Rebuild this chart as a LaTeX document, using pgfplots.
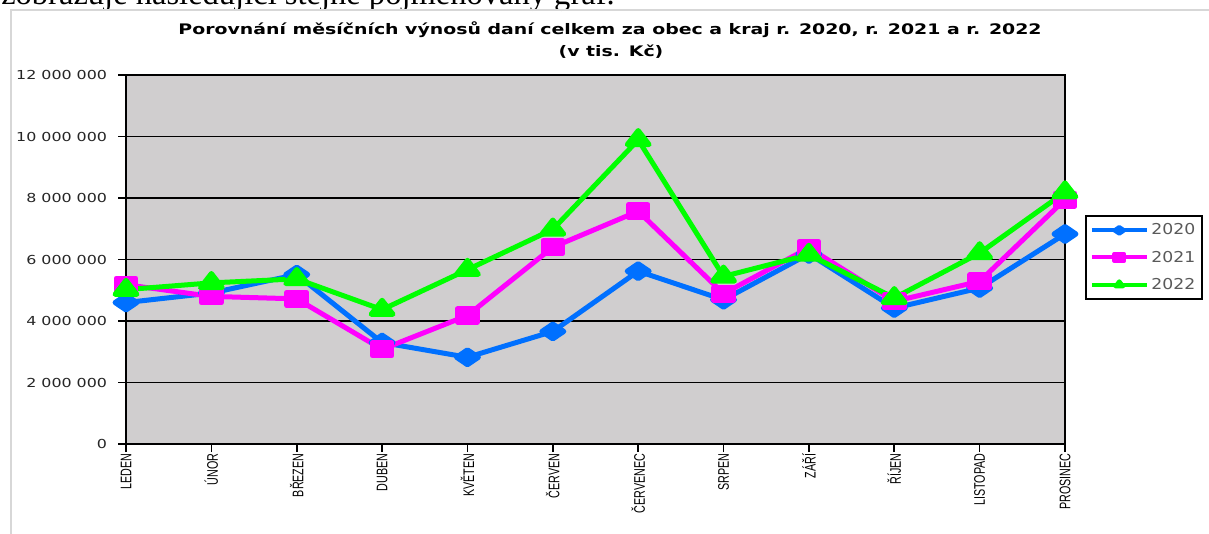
\documentclass[border=0pt]{standalone}
\usepackage{pgfplots}
\pgfplotsset{compat=1.18}
\usepackage{fontspec}
\setmainfont{DejaVu Sans}
\newfontfamily\titlefont[FakeStretch=1.3]{DejaVu Sans}
\newfontfamily\yfont[FakeStretch=1.28]{DejaVu Sans}
\newfontfamily\xfont[FakeStretch=0.70]{Liberation Sans}
\newfontfamily\legfont[FakeStretch=1.15]{DejaVu Sans}
\newfontfamily\seriffont{Liberation Serif}
\definecolor{cA}{RGB}{0,112,255}
\definecolor{cB}{RGB}{255,0,255}
\definecolor{cC}{RGB}{0,255,0}
\definecolor{plotbg}{RGB}{208,206,207}
\definecolor{leggray}{RGB}{90,90,90}
\definecolor{framegray}{RGB}{215,215,215}
\begin{document}
\begin{tikzpicture}[x=0.75pt,y=0.75pt]
\useasboundingbox (0,0) rectangle (1209,533);
\coordinate (axo) at (126,89);
\begin{scope}
\clip (0,0) rectangle (1209,533);
\node[anchor=base west, inner sep=0pt] at (1,528) {\seriffont\fontsize{24.4pt}{26pt}\selectfont zobrazuje následující stejně pojmenovaný graf.};
\draw[framegray, line width=1.5pt] (11,-5) -- (11,523) -- (1215,523);
\end{scope}
\node[font=\titlefont\bfseries\fontsize{10.9pt}{11pt}\selectfont, inner sep=0pt] at (610,503) {Porovnání měsíčních výnosů daní celkem za obec a kraj r. 2020, r. 2021 a r. 2022};
\node[font=\titlefont\bfseries\fontsize{10.9pt}{11pt}\selectfont, inner sep=0pt] at (611,481) {(v tis. Kč)};
\begin{axis}[
  at={(axo)}, anchor=south west,
  scale only axis, width=704.25pt, height=276.75pt,
  xmin=0, xmax=11, ymin=0, ymax=12000000,
  xtick={0,1,2,3,4,5,6,7,8,9,10,11},
  xticklabels={LEDEN,ÚNOR,BŘEZEN,DUBEN,KVĚTEN,ČERVEN,ČERVENEC,SRPEN,ZÁŘÍ,ŘÍJEN,LISTOPAD,PROSINEC},
  xticklabel style={rotate=90, anchor=east, font=\xfont\fontsize{11.5pt}{12pt}\selectfont, inner sep=1pt},
  ytick={0,2000000,4000000,6000000,8000000,10000000,12000000},
  yticklabels={0,2 000 000,4 000 000,6 000 000,8 000 000,10 000 000,12 000 000},
  yticklabel style={font=\yfont\fontsize{9.3pt}{10pt}\selectfont, text=black!85, inner sep=1pt, xshift=-7pt},
  scaled y ticks=false,
  tick pos=left, tick align=outside, major tick length=6pt,
  every tick/.style={black, line width=1.2pt},
  axis line style={black, line width=1.5pt},
  axis background/.style={fill=plotbg},
  ymajorgrids, major grid style={black, line width=1.1pt},
  legend style={at={(1.0213,0.6206)}, anchor=north west, draw=black, line width=1.2pt, fill=white,
    font=\legfont\fontsize{11.25pt}{12pt}\selectfont, text=leggray, inner xsep=3pt, inner ysep=4pt, row sep=6.5pt},
  legend cell align=left,
  legend image code/.code={\draw[mark repeat=2,mark phase=2, line width=3pt, mark size=2.5pt] plot coordinates {(0pt,0pt) (20.6pt,0pt) (41.25pt,0pt)};},
  clip=false,
]
\addplot[color=cA, line width=3.75pt, line join=round, mark=diamond*, mark size=5.6pt, mark options={xscale=1.96, solid}] coordinates {
(0,4600000) (1,4910000) (2,5510000) (3,3300000) (4,2820000) (5,3660000) (6,5620000) (7,4690000) (8,6180000) (9,4420000) (10,5070000) (11,6830000)};
\addlegendentry{2020}
\addplot[color=cB, line width=3.75pt, line join=round, mark=square*, mark size=4.9pt, mark options={xscale=1.5, solid}] coordinates {
(0,5180000) (1,4800000) (2,4720000) (3,3080000) (4,4180000) (5,6400000) (6,7570000) (7,4890000) (8,6380000) (9,4640000) (10,5290000) (11,7950000)};
\addlegendentry{2021}
\addplot[color=cC, line width=3.75pt, line join=round, mark=triangle*, mark size=7pt, mark options={xscale=1.35, solid}] coordinates {
(0,5020000) (1,5240000) (2,5370000) (3,4370000) (4,5670000) (5,6980000) (6,9890000) (7,5450000) (8,6160000) (9,4750000) (10,6210000) (11,8190000)};
\addlegendentry{2022}
\end{axis}
\end{tikzpicture}
\end{document}
